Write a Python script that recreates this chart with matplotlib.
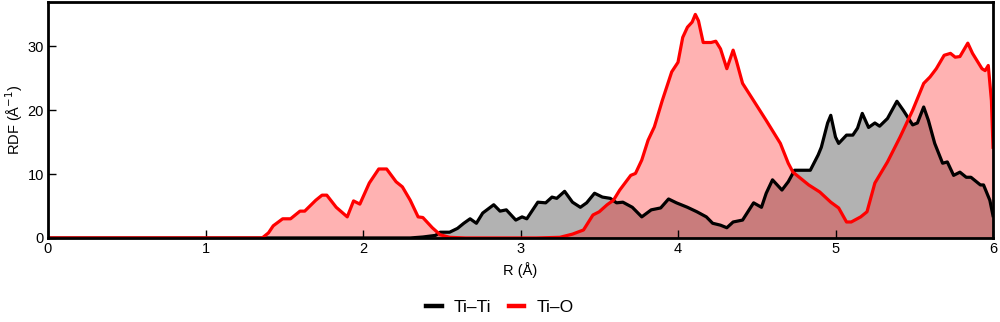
import matplotlib
matplotlib.use("Agg")
import matplotlib.pyplot as plt
from matplotlib.lines import Line2D

plt.rcParams['font.family'] = ['Liberation Sans', 'DejaVu Sans']

# Ti–O radial distribution function
r_tio = [0.00, 1.36, 1.40, 1.43, 1.49, 1.54, 1.60, 1.63, 1.70, 1.74,
         1.77, 1.83, 1.90, 1.94, 1.98, 2.04, 2.10, 2.15, 2.21, 2.25,
         2.30, 2.35, 2.38, 2.44, 2.49, 2.55, 2.65, 3.10, 3.25, 3.33,
         3.40, 3.46, 3.50, 3.55, 3.59, 3.63, 3.70, 3.73, 3.77, 3.81,
         3.85, 3.90, 3.96, 4.00, 4.03, 4.06, 4.09, 4.11, 4.13, 4.16,
         4.21, 4.24, 4.27, 4.31, 4.35, 4.37, 4.41, 4.48, 4.56, 4.65,
         4.70, 4.73, 4.77, 4.83, 4.90, 4.97, 5.02, 5.07, 5.10, 5.16,
         5.20, 5.25, 5.33, 5.41, 5.49, 5.56, 5.60, 5.64, 5.69, 5.73,
         5.76, 5.79, 5.84, 5.87, 5.93, 5.95, 5.97, 5.99, 6.00]
g_tio = [0.0, 0.0, 0.8, 1.9, 3.0, 3.0, 4.2, 4.2, 5.9, 6.7,
         6.7, 4.8, 3.3, 5.8, 5.3, 8.6, 10.8, 10.8, 8.8, 8.0,
         5.9, 3.3, 3.2, 1.6, 0.5, 0.1, 0.0, 0.0, 0.1, 0.6,
         1.25, 3.6, 4.1, 5.2, 5.9, 7.5, 9.8, 10.1, 12.2, 15.3,
         17.4, 21.5, 26.0, 27.5, 31.4, 33.0, 33.8, 35.0, 34.0, 30.6,
         30.6, 30.8, 29.6, 26.5, 29.4, 27.8, 24.2, 21.5, 18.4, 14.8,
         11.7, 10.3, 9.5, 8.3, 7.2, 5.6, 4.7, 2.5, 2.5, 3.3,
         4.1, 8.6, 11.9, 15.8, 20.0, 24.2, 25.2, 26.5, 28.6, 28.9,
         28.3, 28.4, 30.5, 28.9, 26.5, 26.2, 27.0, 21.5, 14.2]

# Ti–Ti radial distribution function
r_titi = [0.00, 2.30, 2.38, 2.46, 2.49, 2.55, 2.60, 2.64, 2.68, 2.72,
          2.76, 2.83, 2.87, 2.91, 2.97, 3.01, 3.04, 3.11, 3.16, 3.20,
          3.23, 3.28, 3.33, 3.38, 3.42, 3.47, 3.52, 3.57, 3.61, 3.65,
          3.71, 3.77, 3.83, 3.89, 3.94, 3.99, 4.06, 4.12, 4.18, 4.22,
          4.27, 4.31, 4.35, 4.41, 4.48, 4.53, 4.56, 4.60, 4.66, 4.70,
          4.74, 4.79, 4.84, 4.89, 4.91, 4.95, 4.97, 5.00, 5.02, 5.07,
          5.11, 5.14, 5.17, 5.21, 5.25, 5.28, 5.33, 5.39, 5.43, 5.49,
          5.52, 5.56, 5.59, 5.63, 5.68, 5.71, 5.75, 5.79, 5.83, 5.86,
          5.92, 5.94, 5.98, 6.00]
g_titi = [0.0, 0.0, 0.15, 0.4, 0.9, 0.9, 1.5, 2.3, 3.0, 2.3,
          3.9, 5.2, 4.2, 4.4, 2.8, 3.3, 3.0, 5.6, 5.5, 6.4,
          6.2, 7.3, 5.6, 4.8, 5.5, 7.0, 6.4, 6.2, 5.5, 5.6,
          4.8, 3.3, 4.4, 4.7, 6.1, 5.5, 4.8, 4.1, 3.3, 2.3,
          2.0, 1.6, 2.5, 2.8, 5.5, 4.8, 7.0, 9.1, 7.5, 8.8,
          10.6, 10.6, 10.6, 13.0, 14.2, 18.0, 19.2, 15.8, 14.8, 16.1,
          16.1, 17.2, 19.5, 17.3, 18.0, 17.5, 18.7, 21.4, 20.0, 17.7,
          18.0, 20.5, 18.4, 14.8, 11.7, 11.9, 9.8, 10.3, 9.5, 9.5,
          8.3, 8.3, 5.9, 3.5]

x_ticks = [0, 1, 2, 3, 4, 5, 6]
y_ticks = [0, 10, 20, 30]

fig = plt.figure(figsize=(10, 3.22), dpi=100)
ax = fig.add_axes([0.048, 0.261, 0.945, 0.732])

lw = 2.3
ax.fill_between(r_titi, g_titi, 0, color='black', alpha=0.3, lw=0)
ax.plot(r_titi, g_titi, color='black', lw=lw, solid_joinstyle='round')
ax.fill_between(r_tio, g_tio, 0, color='red', alpha=0.3, lw=0)
ax.plot(r_tio, g_tio, color='red', lw=lw, solid_joinstyle='round')

ax.set_xlim(0, 6)
ax.set_ylim(0, 36.9)
ax.set_xticks(x_ticks)
ax.set_yticks(y_ticks)
ax.tick_params(direction='in', length=6, width=1, labelsize=10.5, pad=3)
for s in ax.spines.values():
    s.set_linewidth(2)

ax.set_xlabel('R (Å)', fontsize=10.5, labelpad=4)
ax.set_ylabel('RDF (Å$^{-1}$)', fontsize=10.5, labelpad=2)

handles = [Line2D([], [], color='black', lw=3.2), Line2D([], [], color='red', lw=3.2)]
fig.legend(handles, ['Ti–Ti', 'Ti–O'], loc='center', bbox_to_anchor=(0.5, 0.045),
           ncol=2, frameon=False, fontsize=12.5, handlelength=0.9,
           handletextpad=0.7, columnspacing=1.0)

fig.savefig('out.png', dpi=100)
